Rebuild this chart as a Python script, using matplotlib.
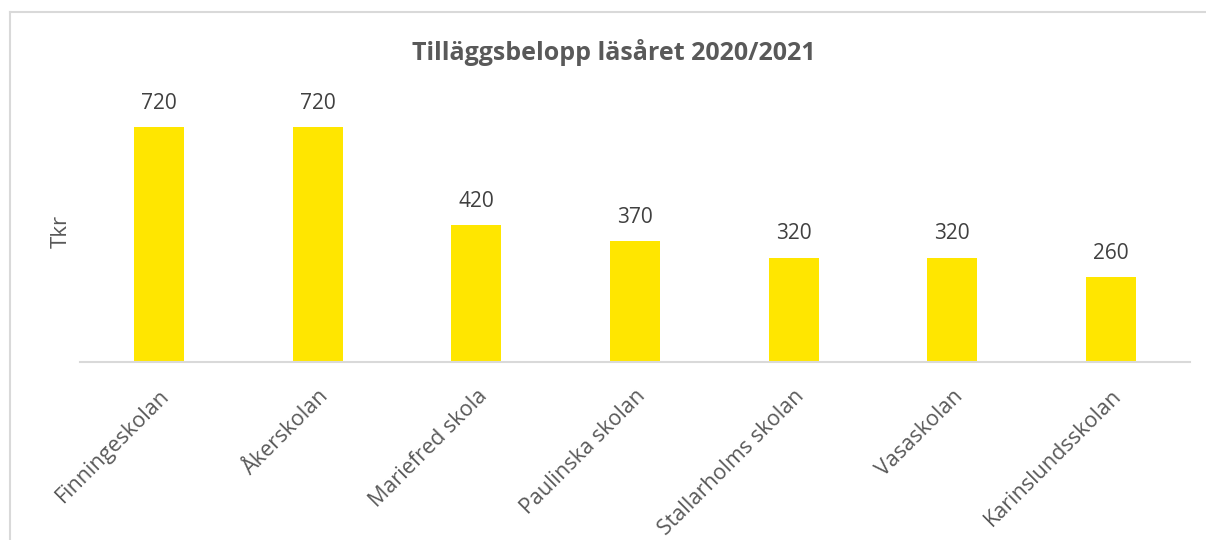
import matplotlib.pyplot as plt
from matplotlib.lines import Line2D

# data
schools = ['Finningeskolan', 'Åkerskolan', 'Mariefred skola', 'Paulinska skolan',
           'Stallarholms skolan', 'Vasaskolan', 'Karinslundsskolan']
amounts = [720, 720, 420, 370, 320, 320, 260]

text_col = '#595959'
bar_col = '#FFE600'
line_col = '#D9D9D9'

plt.rcParams['font.family'] = ['Open Sans', 'DejaVu Sans']

fig = plt.figure(figsize=(12.06, 5.4), dpi=100)
ax = fig.add_axes([80 / 1206, 1 - 362 / 540, 1110 / 1206, 261 / 540])

x = range(len(schools))
bars = ax.bar(x, amounts, width=0.315, color=bar_col, zorder=2)
for b, v in zip(bars, amounts):
    ax.annotate(str(v), (b.get_x() + b.get_width() / 2, v), xytext=(0, 9.5),
                textcoords='offset points', ha='center', va='bottom',
                fontsize=15, color='#404040')

ax.set_xlim(-0.5, len(schools) - 0.5)
ax.set_ylim(0, 800)
ax.set_yticks([])
ax.set_xticks(list(x))
ax.set_xticklabels(schools, rotation=45, ha='right', rotation_mode='anchor',
                   fontsize=15.5, color=text_col)
ax.tick_params(axis='x', length=0, pad=17)
for s in ['top', 'right', 'left']:
    ax.spines[s].set_visible(False)
ax.spines['bottom'].set_color(line_col)
ax.spines['bottom'].set_linewidth(1.5)

ax.set_ylabel('Tkr', fontsize=16, color=text_col, labelpad=6)

fig.text(614 / 1206, 1 - 52 / 540, 'Tilläggsbelopp läsåret 2020/2021',
         ha='center', va='center', fontsize=18, fontweight='bold', color=text_col)

# chart border (left and top only visible)
fig.add_artist(Line2D([9.5 / 1206, 9.5 / 1206], [0, 1 - 11.5 / 540],
                      transform=fig.transFigure, color=line_col, lw=1.5))
fig.add_artist(Line2D([9.5 / 1206, 1], [1 - 11.5 / 540, 1 - 11.5 / 540],
                      transform=fig.transFigure, color=line_col, lw=1.5))

fig.savefig('out.png', dpi=100, facecolor='white')
